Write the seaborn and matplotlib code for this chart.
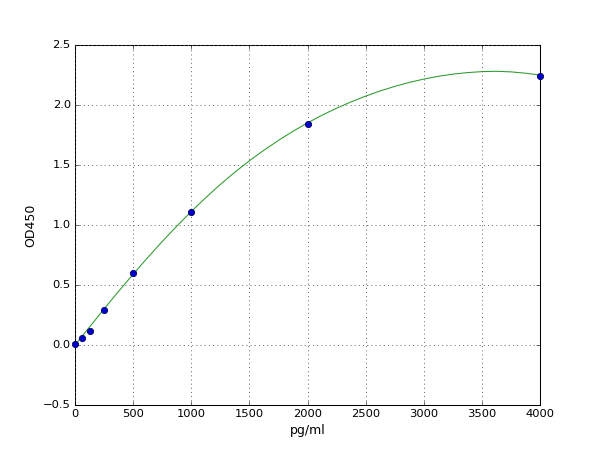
import matplotlib
matplotlib.use('Agg')
import matplotlib.pyplot as plt
import seaborn as sns
import pandas as pd

# Standard points
conc = [0, 62.5, 125, 250, 500, 1000, 2000, 4000]
od450 = [0.01, 0.06, 0.12, 0.29, 0.60, 1.11, 1.84, 2.24]

# Fitted curve
curve_x = [0, 125, 250, 375, 500, 625, 750, 875, 1000, 1125, 1250, 1375,
           1500, 1625, 1750, 1875, 2000, 2125, 2250, 2375, 2500, 2625, 2750,
           2875, 3000, 3125, 3250, 3375, 3500, 3625, 3750, 3875, 4000]
curve_y = [0.00, 0.15, 0.30, 0.447, 0.59, 0.728, 0.862, 0.99, 1.112, 1.228,
           1.338, 1.44, 1.535, 1.623, 1.705, 1.781, 1.851, 1.915, 1.973,
           2.026, 2.074, 2.117, 2.155, 2.188, 2.216, 2.239, 2.257, 2.27,
           2.278, 2.281, 2.276, 2.265, 2.25]

plt.style.use('classic')
df_pts = pd.DataFrame({'conc': conc, 'od': od450})
df_fit = pd.DataFrame({'x': curve_x, 'y': curve_y})

fig, ax = plt.subplots(figsize=(8, 6), dpi=75)
fig.subplots_adjust(left=0.125, right=0.9, top=0.9, bottom=0.1)
fig.patch.set_facecolor('white')

sns.lineplot(data=df_fit, x='x', y='y', ax=ax, color='#2a9a2a', linewidth=1, zorder=2)
sns.scatterplot(data=df_pts, x='conc', y='od', ax=ax, color='#0000cc',
                edgecolor='#000066', s=36, linewidth=0.8, zorder=3, clip_on=False)

ax.set_xlim(0, 4000)
ax.set_ylim(-0.5, 2.5)
ax.set_xticks(range(0, 4001, 500))
ax.set_yticks([-0.5, 0.0, 0.5, 1.0, 1.5, 2.0, 2.5])
ax.grid(True, linestyle=':', color='#555555', linewidth=0.8)
ax.set_xlabel('pg/ml')
ax.set_ylabel('OD450')
ax.tick_params(labelsize=11)

fig.savefig('out.png', dpi=75, facecolor='white')
